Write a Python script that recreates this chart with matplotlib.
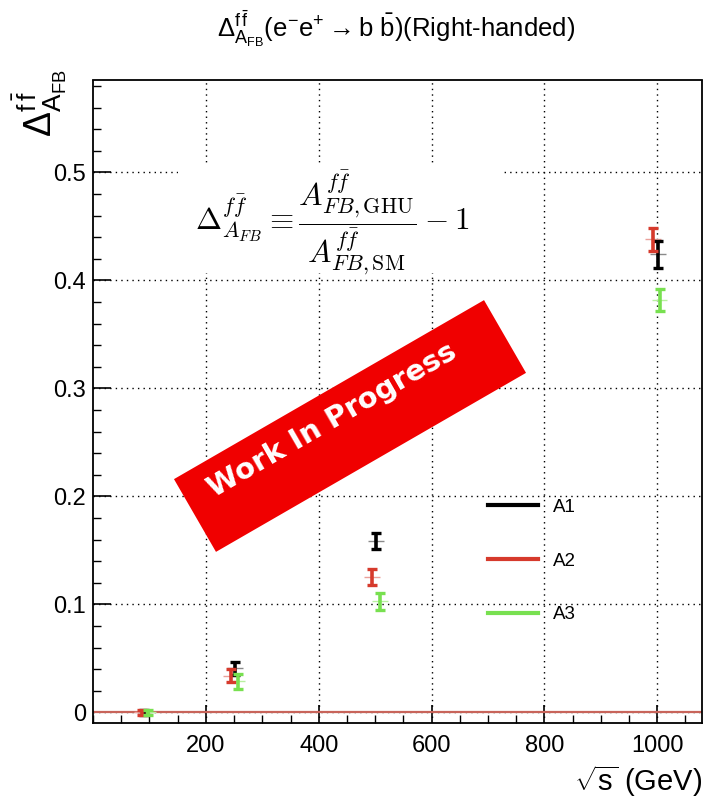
import matplotlib
matplotlib.use('Agg')
import matplotlib.pyplot as plt
from matplotlib.lines import Line2D
from matplotlib.patches import Rectangle
from matplotlib.ticker import MultipleLocator
import matplotlib.transforms as mtransforms

plt.rcParams['font.family'] = ['Liberation Sans', 'DejaVu Sans']
plt.rcParams['mathtext.fontset'] = 'custom'
plt.rcParams['mathtext.rm'] = 'Liberation Sans'
plt.rcParams['mathtext.it'] = 'Liberation Sans'
plt.rcParams['mathtext.bf'] = 'Liberation Sans:bold'

# data
labels = ['A1', 'A2', 'A3']
colors = ['#000000', '#d63a2c', '#78e050']
xerr_colors = ['#8a8a8a', '#eaa09a', '#b8f0a0']
x_A1 = [91, 252, 501, 1001]
y_A1 = [0.0, 0.041, 0.159, 0.424]
e_A1 = [0.002, 0.006, 0.0075, 0.0125]
x_A2 = [87, 245, 495, 993]
y_A2 = [0.0, 0.034, 0.125, 0.438]
e_A2 = [0.002, 0.006, 0.0075, 0.0105]
x_A3 = [97, 256, 509, 1004]
y_A3 = [0.0, 0.029, 0.103, 0.382]
e_A3 = [0.002, 0.007, 0.008, 0.010]
xs = [x_A1, x_A2, x_A3]
ys = [y_A1, y_A2, y_A3]
es = [e_A1, e_A2, e_A3]
xticks = [200, 400, 600, 800, 1000]
yticks = [0, 0.1, 0.2, 0.3, 0.4, 0.5]
yticklabels = ['0', '0.1', '0.2', '0.3', '0.4', '0.5']

fig = plt.figure(figsize=(7.16, 8.05), dpi=100)
ax = fig.add_axes([0.130, 0.102, 0.851, 0.798])
ax.set_xlim(0, 1080)
ax.set_ylim(-0.0097, 0.585)

ax.axhline(0, color='#c8645a', lw=1.6, zorder=2)

for x, y, e, c, cx in zip(xs, ys, es, colors, xerr_colors):
    ax.errorbar(x, y, xerr=14, fmt='none', ecolor=cx, elinewidth=1.0, zorder=3)
    ax.errorbar(x, y, yerr=e, fmt='none', ecolor=c, elinewidth=2.6,
                capsize=3.5, capthick=2.4, zorder=4)

ax.set_xticks(xticks)
ax.xaxis.set_minor_locator(MultipleLocator(50))
ax.set_yticks(yticks)
ax.set_yticklabels(yticklabels)
ax.yaxis.set_minor_locator(MultipleLocator(0.02))
ax.tick_params(which='both', direction='in', top=False, right=False, labelsize=17)
ax.tick_params(which='major', length=13, width=1.2)
ax.tick_params(which='minor', length=6, width=1.0)
ax.tick_params(axis='x', pad=9)
ax.tick_params(axis='y', pad=5)
ax.grid(True, which='major', color='black', linestyle=(0, (1, 3)), lw=1.0)
for s in ax.spines.values():
    s.set_linewidth(1.3)

ax.set_xlabel(r'$\sqrt{\mathrm{s}}$ (GeV)', fontsize=21, loc='right', labelpad=4)
fig.text(0.056, 0.914, r'$\Delta^{\mathrm{f\,\bar{f}}}_{\mathrm{A_{FB}}}$', rotation=90,
         fontsize=27, ha='center', va='top')
fig.text(0.553, 0.964,
         r'$\Delta^{\mathrm{f\,\bar{f}}}_{\mathrm{A_{FB}}}$(e$^{-}$e$^{+}\rightarrow$b $\bar{\mathrm{b}}$)(Right-handed)',
         fontsize=18.5, ha='center', va='center')

# white pave behind the formula
ax.add_patch(Rectangle((0.139, 0.70), 0.53, 0.168, transform=ax.transAxes,
                       facecolor='white', edgecolor='none', zorder=4.5))
ax.text(0.393, 0.779,
        r'$\Delta^{f\bar{f}}_{A_{FB}} \equiv \dfrac{A^{f\bar{f}}_{FB,\mathrm{GHU}}}{A^{f\bar{f}}_{FB,\mathrm{SM}}} - 1$',
        transform=ax.transAxes, fontsize=22.5, math_fontfamily='cm', ha='center', va='center',
        zorder=5)

handles = [Line2D([], [], color=c, lw=3) for c in colors]
ax.legend(handles, labels, loc='upper left', bbox_to_anchor=(0.62, 0.375), frameon=False,
          fontsize=13.5, handlelength=2.7, labelspacing=1.95, handletextpad=0.8)

# Work In Progress banner
cx, cy = 3.50, 3.79
w, h = 3.58, 0.84
rot = mtransforms.Affine2D().rotate_deg_around(cx, cy, 30) + fig.dpi_scale_trans
fig.add_artist(Rectangle((cx - w / 2, cy - h / 2), w, h, transform=rot,
                         facecolor='#f00000', edgecolor='none', zorder=10))
fig.text(3.32 / 7.16, 3.85 / 8.05, 'Work In Progress', rotation=30, rotation_mode='anchor',
         ha='center', va='center', color='white', fontweight='bold', fontsize=21,
         family=['DejaVu Sans'], zorder=11)

fig.savefig('out.png', dpi=100)
